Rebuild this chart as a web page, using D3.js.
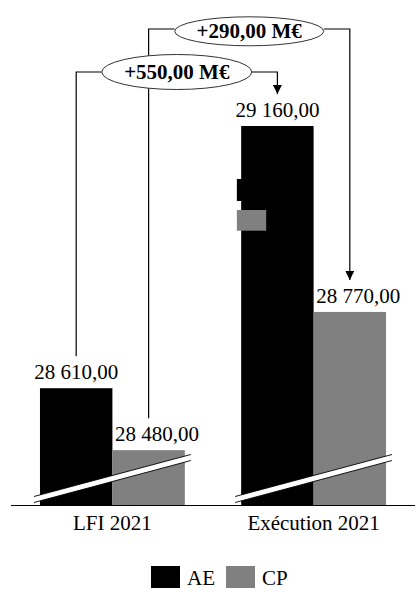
<!DOCTYPE html>
<html>
<head>
<meta charset="utf-8">
<script src="https://cdn.jsdelivr.net/npm/d3@7"></script>
<style>
  body { margin: 0; background: #fff; }
  text { font-family: "Liberation Serif", "DejaVu Serif", serif; }
</style>
</head>
<body>
<div id="chart"></div>
<script>
const groups = ['LFI 2021', 'Exécution 2021']
const series = ['AE', 'CP']
const colors = ['#000000', '#808080']
const AE = [28610, 29160]
const CP = [28480, 28770]
const values = { AE: AE, CP: CP }

const width = 420
const height = 616
const baseY = 505

var svg = d3.select('#chart')
  .append('svg')
  .attr('width', width)
  .attr('height', height)

var x0 = d3.scaleBand()
  .domain(groups)
  .range([11.5, 414.5])
  .paddingInner(0.28)
  .paddingOuter(0.1415)

var x1 = d3.scaleBand()
  .domain(series)
  .range([0, x0.bandwidth()])

var y = d3.scaleLinear()
  .domain([28365, 29160])
  .range([baseY, 126])

var fmt = function(v) {
  return d3.format(',.2f')(v).replace(/,/g, ' ').replace('.', ',')
}

var cells = []
groups.forEach(function(g, gi) {
  series.forEach(function(s, si) {
    cells.push({ group: g, gi: gi, series: s, si: si, value: values[s][gi] })
  })
})
var cx = function(d) { return x0(d.group) + x1(d.series) + x1.bandwidth() / 2 }

// bars
svg.selectAll('.bar')
  .data(cells)
  .enter().append('rect')
  .attr('class', 'bar')
  .attr('x', d => x0(d.group) + x1(d.series))
  .attr('width', x1.bandwidth())
  .attr('y', d => y(d.value))
  .attr('height', d => baseY - y(d.value))
  .attr('fill', d => colors[d.si])

// stray swatches sitting on the execution AE bar
svg.selectAll('.stray')
  .data(series)
  .enter().append('rect')
  .attr('x', x0(groups[1]) - 4.3)
  .attr('y', (d, i) => 179 + i * 31)
  .attr('width', 29.3)
  .attr('height', (d, i) => i ? 20.7 : 22)
  .attr('fill', (d, i) => colors[i])

// axis break marks
groups.forEach(function(g) {
  var L = x0(g) - 6, R = x0(g) + x0.bandwidth() + 6
  var yl = baseY - 5.5, yr = baseY - 47.5
  svg.append('polygon')
    .attr('points', [[L, yl - 3], [R, yr - 3], [R, yr + 3], [L, yl + 3]].join(' '))
    .attr('fill', '#fff')
  ;[-3, 3].forEach(function(o) {
    svg.append('line')
      .attr('x1', L).attr('y1', yl + o)
      .attr('x2', R).attr('y2', yr + o)
      .attr('stroke', '#000')
      .attr('stroke-width', 0.9)
  })
})

// baseline
svg.append('line')
  .attr('x1', 11).attr('x2', 415)
  .attr('y1', baseY + 0.5).attr('y2', baseY + 0.5)
  .attr('stroke', '#000')
  .attr('stroke-width', 1.2)

// value labels
svg.selectAll('.val')
  .data(cells)
  .enter().append('text')
  .attr('class', 'val')
  .attr('x', d => cx(d) + (d.si ? 8.5 : 0))
  .attr('y', d => y(d.value) - 9)
  .attr('text-anchor', 'middle')
  .attr('font-size', 21)
  .text(d => fmt(d.value))

// category labels
svg.selectAll('.cat')
  .data(groups)
  .enter().append('text')
  .attr('x', d => x0(d) + x0.bandwidth() / 2)
  .attr('y', 530)
  .attr('text-anchor', 'middle')
  .attr('font-size', 21)
  .text(d => d)

// difference brackets
var diffs = [
  { s: 'AE', level: 72, rx: 75, ry: 17.5 },
  { s: 'CP', level: 29, rx: 74.5, ry: 14.5 }
]
svg.append('defs').append('marker')
  .attr('id', 'arrow')
  .attr('viewBox', '0 0 10 10')
  .attr('refX', 10).attr('refY', 5)
  .attr('markerUnits', 'userSpaceOnUse')
  .attr('markerWidth', 9).attr('markerHeight', 9)
  .attr('orient', 'auto')
  .append('path')
  .attr('d', 'M0,0L10,5L0,10Z')
  .attr('fill', '#000')

diffs.forEach(function(d) {
  var a = cells.find(c => c.gi === 0 && c.series === d.s)
  var b = cells.find(c => c.gi === 1 && c.series === d.s)
  d.a = a; d.b = b
  d.mid = (cx(a) + cx(b)) / 2
  svg.append('path')
    .attr('d', 'M' + cx(a) + ',' + (y(a.value) - 32) + 'V' + d.level + 'H' + (d.mid - d.rx))
    .attr('fill', 'none')
    .attr('stroke', '#000')
    .attr('stroke-width', 1.2)
  svg.append('path')
    .attr('d', 'M' + (d.mid + d.rx) + ',' + d.level + 'H' + cx(b) + 'V' + (y(b.value) - 32))
    .attr('fill', 'none')
    .attr('stroke', '#000')
    .attr('stroke-width', 1.2)
    .attr('marker-end', 'url(#arrow)')
})

// the bubbles go on top of every connector
diffs.forEach(function(d) {
  var cy = d.level + (d.s === 'CP' ? 2.3 : 0)
  svg.append('ellipse')
    .attr('cx', d.mid).attr('cy', cy)
    .attr('rx', d.rx).attr('ry', d.ry)
    .attr('fill', '#fff')
    .attr('stroke', '#333')
    .attr('stroke-width', 1)
  svg.append('text')
    .attr('x', d.mid)
    .attr('y', cy + 6.8)
    .attr('text-anchor', 'middle')
    .attr('font-size', 21)
    .attr('font-weight', 'bold')
    .text('+' + fmt(d.b.value - d.a.value) + ' M€')
})

// legend
var legend = svg.selectAll('.legend')
  .data(series)
  .enter().append('g')
  .attr('transform', (d, i) => 'translate(' + (151 + i * 75) + ',566)')
legend.append('rect')
  .attr('width', 29).attr('height', 22)
  .attr('fill', (d, i) => colors[i])
legend.append('text')
  .attr('x', 36).attr('y', 19)
  .attr('font-size', 21)
  .text(d => d)
</script>
</body>
</html>
